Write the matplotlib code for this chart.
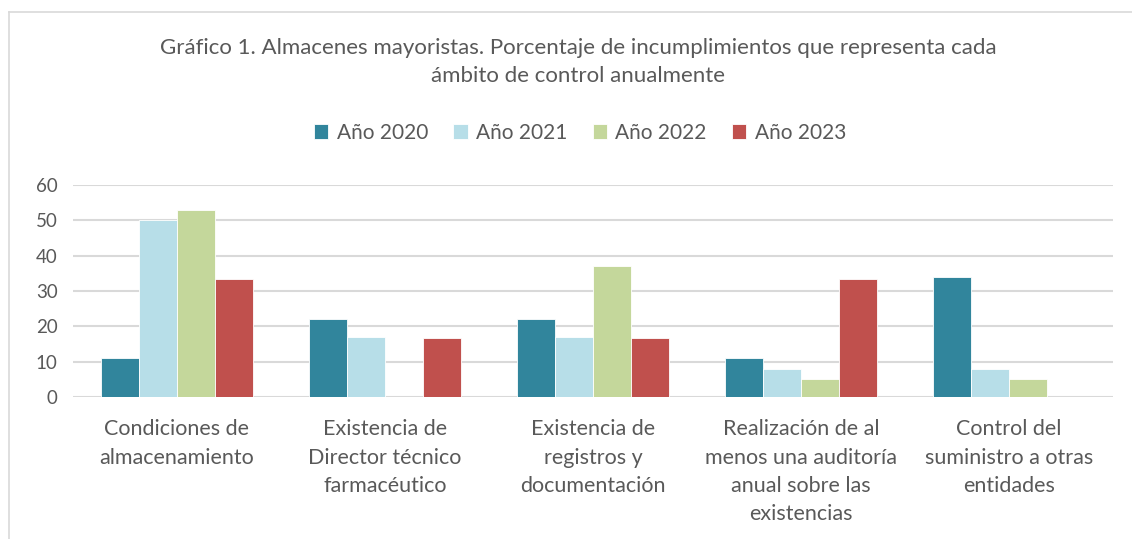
import matplotlib
matplotlib.use("Agg")
import matplotlib.pyplot as plt
from matplotlib.lines import Line2D
import numpy as np

plt.rcParams['font.family'] = ['Lato', 'DejaVu Sans']

categories = ["Condiciones de\nalmacenamiento",
              "Existencia de\nDirector técnico\nfarmacéutico",
              "Existencia de\nregistros y\ndocumentación",
              "Realización de al\nmenos una auditoría\nanual sobre las\nexistencias",
              "Control del\nsuministro a otras\nentidades"]
series_names = ["Año 2020", "Año 2021", "Año 2022", "Año 2023"]
v2020 = [11, 22, 22, 11, 34]
v2021 = [50, 17, 17, 8, 8]
v2022 = [53, 0, 37, 5, 5]
v2023 = [33.3, 16.7, 16.7, 33.3, 0]
values = [v2020, v2021, v2022, v2023]
colors = ["#31859C", "#B7DEE8", "#C4D79B", "#C0504D"]
yticks = [0, 10, 20, 30, 40, 50, 60]

W, H = 1132, 539
fig = plt.figure(figsize=(W/100, H/100), dpi=100)
ax = fig.add_axes([73/W, 1-397/H, (1113-73)/W, (397-185)/H])

x = np.arange(len(categories))
bw = 0.182
for i, (vals, c, name) in enumerate(zip(values, colors, series_names)):
    ax.bar(x + (i-1.5)*bw, vals, width=bw, color=c, label=name, zorder=3,
           edgecolor='white', linewidth=0.6)

ax.set_xlim(-0.5, len(categories)-0.5)
ax.set_ylim(0, 60)
ax.set_yticks(yticks)
ax.set_yticklabels([str(t) for t in yticks])
ax.yaxis.grid(True, color="#D9D9D9", linewidth=1.5, zorder=0)
ax.set_axisbelow(True)
for s in ['top', 'right', 'left', 'bottom']:
    ax.spines[s].set_visible(False)
ax.axhline(0, color="#D9D9D9", linewidth=2, zorder=2)
ax.tick_params(axis='y', length=0, pad=11, labelsize=13.5, labelcolor="#595959")
ax.tick_params(axis='x', length=0, pad=16, labelsize=15.5, labelcolor="#595959")
ax.set_xticks(x)
ax.set_xticklabels(categories, linespacing=1.52)

fig.text(578/W, 1-48/H, "Gráfico 1. Almacenes mayoristas. Porcentaje de incumplimientos que representa cada",
         ha='center', va='center', fontsize=16, color="#595959")
fig.text(578/W, 1-76/H, "ámbito de control anualmente",
         ha='center', va='center', fontsize=16, color="#595959")

leg = fig.legend(loc='center', bbox_to_anchor=(580/W, 1-133/H), ncol=4, frameon=False,
                 fontsize=15, handlelength=0.7, handleheight=0.7, handletextpad=0.4,
                 columnspacing=1.2, labelcolor="#595959")

# chart frame
fig.add_artist(Line2D([9/W, 9/W], [0, 1-12/H], transform=fig.transFigure, color="#D9D9D9", linewidth=1.2))
fig.add_artist(Line2D([9/W, 1], [1-12/H, 1-12/H], transform=fig.transFigure, color="#D9D9D9", linewidth=1.2))

fig.savefig("out.png", dpi=100, facecolor='white')
